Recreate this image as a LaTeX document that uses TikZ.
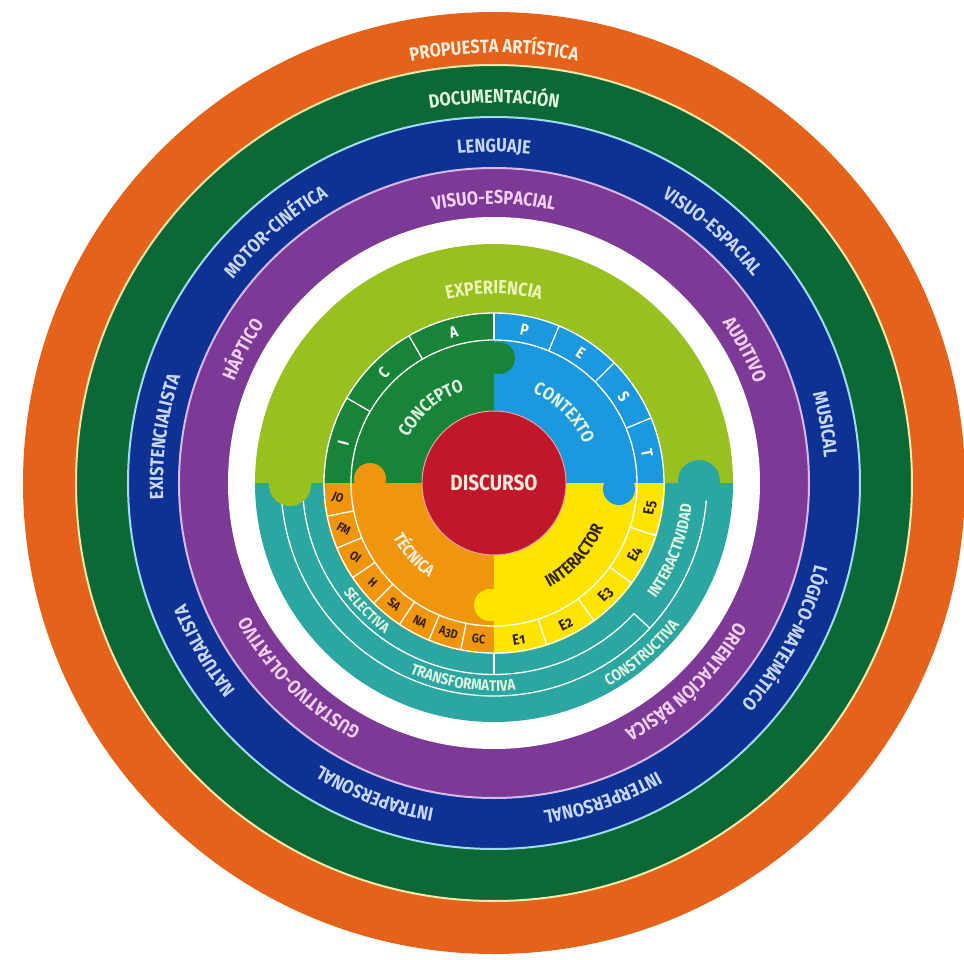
\documentclass[tikz,border=0pt]{standalone}
\usepackage{fontspec}
\setmainfont{Fira Sans}[FakeStretch=0.86]
\newfontfamily\oldnum{Fira Sans}[FakeStretch=0.86,Numbers=OldStyle]
\usetikzlibrary{decorations.text}

\definecolor{ringorange}{RGB}{229,98,26}
\definecolor{ringgreen}{RGB}{12,104,52}
\definecolor{ringblue}{RGB}{14,50,148}
\definecolor{ringpurple}{RGB}{124,58,150}
\definecolor{sepcream}{RGB}{245,232,170}
\definecolor{sepcyan}{RGB}{160,220,240}
\definecolor{seplilac}{RGB}{215,185,240}
\definecolor{expgreen}{RGB}{152,192,32}
\definecolor{congreen}{RGB}{24,132,56}
\definecolor{ctxblue}{RGB}{28,152,222}
\definecolor{tecorange}{RGB}{240,150,12}
\definecolor{intyellow}{RGB}{255,228,0}
\definecolor{intteal}{RGB}{44,166,160}
\definecolor{discred}{RGB}{192,24,42}
\definecolor{txtcream}{RGB}{255,240,222}
\definecolor{txtmint}{RGB}{225,245,225}
\definecolor{txtexp}{RGB}{238,245,185}
\definecolor{txtblue}{RGB}{200,215,255}
\definecolor{txtpink}{RGB}{245,208,245}
\definecolor{txtdark}{RGB}{50,35,10}

% text on a circle: clockwise (tops outward) / counterclockwise (tops inward)
% #1 colour, #2 size, #3 baseline radius, #4 centre angle, #5 text
\newcommand{\cwtext}[5]{%
  \path[decorate,decoration={text along path,text align=center,text color=#1,
      text={|\fontsize{#2}{#2}\selectfont\bfseries|#5}}]
    (#4+60:#3) arc[start angle=#4+60,end angle=#4-60,radius=#3];}
\newcommand{\ccwtext}[5]{%
  \path[decorate,decoration={text along path,text align=center,text color=#1,
      text={|\fontsize{#2}{#2}\selectfont\bfseries|#5}}]
    (#4-60:#3) arc[start angle=#4-60,end angle=#4+60,radius=#3];}

\begin{document}
\begin{tikzpicture}[x=1pt,y=1pt,
    sep/.style={white,line width=1.3pt},
    ringsep/.style={line width=2pt},
    toplbl/.style={white,inner sep=0pt,font=\fontsize{16}{16}\selectfont\bfseries},
    botlbl/.style={txtdark,inner sep=0pt,font=\fontsize{12.5}{12.5}\selectfont\bfseries},
    elbl/.style={txtdark,inner sep=0pt,font=\fontsize{15}{15}\selectfont\bfseries},
  ]
\useasboundingbox (-494,-476) rectangle (470,483);

% Rings
\fill[ringorange] (0,0) circle [radius=471];
\fill[ringgreen]  (0,0) circle [radius=418];
\fill[ringblue]   (0,0) circle [radius=366];
\fill[ringpurple] (0,0) circle [radius=315];
\fill[white]      (0,0) circle [radius=266];
\draw[ringsep,sepcream] (0,0) circle [radius=418];
\draw[ringsep,sepcyan]  (0,0) circle [radius=366];
\draw[ringsep,seplilac] (0,0) circle [radius=315];

% Experiencia / interactividad halves
\fill[expgreen] (239,0) arc[start angle=0,end angle=180,radius=239] -- cycle;
\fill[intteal] (-239,0) arc[start angle=180,end angle=360,radius=239] -- cycle;
\draw[sep] (-191.5,0) arc[start angle=180,end angle=317,radius=191.5];
\draw[sep] (-213,0) arc[start angle=180,end angle=360,radius=213];
\draw[sep] (317:191.5) -- (317:213);
\draw[sep] (270:170) -- (270:191.5);
\fill[expgreen] (-204,-2) circle [radius=21];
\fill[intteal] (205,2) circle [radius=21];

% Quadrants
\fill[congreen] (0,0) -- (-170,0) arc[start angle=180,end angle=90,radius=170] -- cycle;
\fill[ctxblue] (0,0) -- (0,170) arc[start angle=90,end angle=0,radius=170] -- cycle;
\fill[tecorange] (0,0) -- (0,-171) arc[start angle=270,end angle=180,radius=171] -- cycle;
\fill[intyellow] (0,0) -- (171,0) arc[start angle=0,end angle=-90,radius=171] -- cycle;
\fill[congreen] (5,125) circle [radius=16];
\fill[ctxblue] (125,-6) circle [radius=16];
\fill[intyellow] (-4,-122) circle [radius=16];
\fill[tecorange] (-124,4) circle [radius=16];

% Band lines
\draw[sep] (0,0) circle [radius=143];
\draw[sep] (0,0) circle [radius=170];
\foreach \a in {150,120,90,67.5,45,22.5}
  \draw[sep] (\a:143) -- (\a:170);
\foreach \i in {1,...,7}
  \draw[sep] (180+11.25*\i:143) -- (180+11.25*\i:170);
\foreach \a in {288,306,324,342}
  \draw[sep] (\a:143) -- (\a:170);

% Discurso
\fill[discred] (0,0) circle [radius=72];
\draw[white!60!discred,line width=1pt] (0,0) circle [radius=72];
\node[text=txtcream!85!pink,font=\fontsize{22}{22}\selectfont\bfseries] (discurso) at (0,0) {DISCURSO};

% Band letters
\foreach \t/\a in {I/165,C/135,A/105,P/78.75,E/56.25,S/33.75,T/11.25}
  \node[toplbl,rotate=\a-90] (let\t) at (\a:156) {\t};
\foreach \t/\a/\r in {JO/185.6/-22,FM/196.9/-30,OI/208.1/-36,H/219.4/-42,SA/230.6/-40,NA/241.9/-28,A{\oldnum 3}D/253.1/-17,GC/264.4/-6}
  \node[botlbl,rotate=\r] at (\a:157) {\t};
\foreach \n/\a in {1/279,2/297,3/315,4/333,5/351}
  \node[elbl,rotate=\a+90] (e\n) at (\a:158) {E{\oldnum\n}};

% Quadrant labels
\cwtext{txtmint}{18}{97}{130}{CONCEPTO}
\cwtext{txtmint}{18}{98}{45}{CONTEXTO}
\ccwtext{txtcream}{17}{115}{222}{TÉCNICA}
\ccwtext{txtdark}{17}{118}{318}{INTERACTOR}

% Inner ring labels
\cwtext{txtexp}{19}{189}{90}{EXPERIENCIA}
\ccwtext{txtmint}{14.5}{186}{225}{SELECTIVA}
\ccwtext{txtmint}{15.5}{208}{261}{TRANSFORMATIVA}
\ccwtext{txtmint}{16}{233.5}{311}{CONSTRUCTIVA}
\ccwtext{txtmint}{16}{199}{339}{INTERACTIVIDAD}

% Outer ring labels
\cwtext{txtcream}{19}{430}{90}{PROPUESTA ARTÍSTICA}
\cwtext{txtmint}{19}{380}{90}{DOCUMENTACIÓN}
\cwtext{txtblue}{19}{331}{90}{LENGUAJE}
\cwtext{txtblue}{19}{331}{49}{VISUO-ESPACIAL}
\cwtext{txtblue}{19}{331}{10}{MUSICAL}
\cwtext{txtblue}{19}{331}{-28}{LÓGICO-MATEMÁTICO}
\cwtext{txtblue}{19}{331}{-71}{INTERPERSONAL}
\cwtext{txtblue}{19}{331}{-111}{INTRAPERSONAL}
\cwtext{txtblue}{19}{331}{-150}{NATURALISTA}
\cwtext{txtblue}{19}{331}{172}{EXISTENCIALISTA}
\cwtext{txtblue}{19}{331}{131}{MOTOR-CINÉTICA}
\cwtext{txtpink}{19}{279}{90}{VISUO-ESPACIAL}
\cwtext{txtpink}{19}{279}{28}{AUDITIVO}
\cwtext{txtpink}{19}{279}{-46}{ORIENTACIÓN BÁSICA}
\cwtext{txtpink}{19}{279}{-135}{GUSTATIVO-OLFATIVO}
\cwtext{txtpink}{19}{279}{152}{HÁPTICO}
\end{tikzpicture}
\end{document}
